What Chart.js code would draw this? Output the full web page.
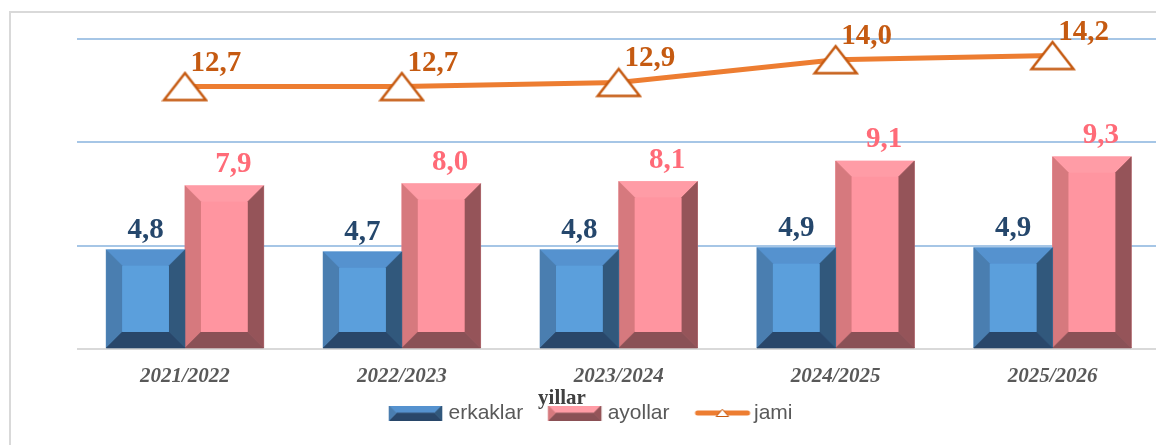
<!DOCTYPE html>
<html><head><meta charset="utf-8">
<script src="https://cdn.jsdelivr.net/npm/chart.js@4.4.1/dist/chart.umd.min.js"></script>
<style>
html,body{margin:0;padding:0;background:#fff;overflow:hidden;width:1156px;height:445px;}
#frame{position:absolute;left:9px;top:11px;width:1200px;height:500px;border-left:2px solid #d9d9d9;border-top:2px solid #d9d9d9;}
#wrap{position:absolute;left:0;top:0;width:1180px;height:445px;}
</style></head><body>
<div id="frame"></div>
<div id="wrap"><canvas id="c" width="1180" height="445"></canvas></div>
<script>
const categories = ['2021/2022','2022/2023','2023/2024','2024/2025','2025/2026'];
const erkaklar = [4.8, 4.7, 4.8, 4.9, 4.9];
const ayollar = [7.9, 8.0, 8.1, 9.1, 9.3];
const jami = [12.7, 12.7, 12.9, 14.0, 14.2];
const yTicks = [0, 5, 10, 15];
const seriesNames = ['erkaklar', 'ayollar', 'jami'];
const axisTitle = 'yillar';

const blueBevel = {face:'#5b9fdc', top:'#5592cf', left:'#4a7eb0', right:'#31587c', bottom:'#29476a'};
const pinkBevel = {face:'#ff95a0', top:'#ff9ca6', left:'#d6797e', right:'#955459', bottom:'#8a5156'};

function poly(ctx, pts, color){
  ctx.beginPath();
  ctx.moveTo(pts[0][0], pts[0][1]);
  for (let i=1;i<pts.length;i++) ctx.lineTo(pts[i][0], pts[i][1]);
  ctx.closePath();
  ctx.fillStyle = color; ctx.fill();
  ctx.strokeStyle = color; ctx.lineWidth = 0.6; ctx.stroke();
}
function drawBevel(ctx, l, t, r, b, bev, c){
  const w = r-l, h = b-t;
  const k = Math.min(bev, h/2, w/2);
  ctx.save();
  ctx.fillStyle = c.face; ctx.fillRect(l, t, w, h);
  poly(ctx, [[l,t],[r,t],[r-k,t+k],[l+k,t+k]], c.top);
  poly(ctx, [[l,t],[l+k,t+k],[l+k,b-k],[l,b]], c.left);
  poly(ctx, [[r,t],[r,b],[r-k,b-k],[r-k,t+k]], c.right);
  poly(ctx, [[l,b],[l+k,b-k],[r-k,b-k],[r,b]], c.bottom);
  ctx.fillStyle = c.face; ctx.fillRect(l+k, t+k, w-2*k, h-2*k);
  ctx.restore();
}
// legend images: 80px wide, visible mark right-aligned
function legendBox(c){
  const cv = document.createElement('canvas'); cv.width = 80; cv.height = 15;
  const x = cv.getContext('2d');
  x.translate(23, 0);
  const k = 7.5, w = 53, h = 15;
  poly(x, [[0,0],[w,0],[w-k,k],[k,k]], c.top);
  poly(x, [[0,h],[k,h-k],[w-k,h-k],[w,h]], c.bottom);
  poly(x, [[0,0],[k,k],[0,h]], c.left);
  poly(x, [[w,0],[w,h],[w-k,k]], c.right);
  return cv;
}
function legendLine(){
  const cv = document.createElement('canvas'); cv.width = 80; cv.height = 16;
  const x = cv.getContext('2d');
  x.translate(23, 0);
  x.strokeStyle = '#ed7d31'; x.lineWidth = 5; x.lineCap = 'round';
  x.beginPath(); x.moveTo(3, 8); x.lineTo(53, 8); x.stroke();
  x.beginPath(); x.moveTo(28, 4.5); x.lineTo(34, 11.5); x.lineTo(22, 11.5); x.closePath();
  x.fillStyle = '#fff'; x.fill(); x.strokeStyle = '#c55a11'; x.lineWidth = 1; x.stroke();
  return cv;
}
function triImg(w, h, lw){
  const cv = document.createElement('canvas'); cv.width = w+lw*2; cv.height = h+lw*2;
  const x = cv.getContext('2d');
  x.beginPath(); x.moveTo(lw + w/2, lw); x.lineTo(lw + w, lw + h); x.lineTo(lw, lw + h); x.closePath();
  x.fillStyle = '#fff'; x.fill();
  x.strokeStyle = '#c55a11'; x.lineWidth = lw; x.stroke();
  return cv;
}
const legendImgs = [legendBox(blueBevel), legendBox(pinkBevel), legendLine()];
const pointTri = triImg(42, 27, 2.5);

const fmt = v => v.toFixed(1).replace('.', ',');

const bevelPlugin = {
  id: 'bevel',
  afterDatasetDraw(chart, args){
    const ds = chart.data.datasets[args.index];
    if (!ds.bevel) return;
    const ctx = chart.ctx;
    args.meta.data.forEach(el => {
      const p = el.getProps(['x','y','base','width'], true);
      drawBevel(ctx, p.x - p.width/2, p.y, p.x + p.width/2, p.base, 16, ds.bevel);
    });
  }
};
const labelPlugin = {
  id: 'vlabels',
  afterDatasetsDraw(chart){
    const ctx = chart.ctx;
    ctx.save();
    ctx.font = 'bold 29px "Liberation Serif"';
    ctx.textAlign = 'center'; ctx.textBaseline = 'alphabetic';
    chart.data.datasets.forEach((ds, i) => {
      const meta = chart.getDatasetMeta(i);
      const s = ds.lbl;
      meta.data.forEach((el, j) => {
        const p = el.getProps(['x','y'], true);
        ctx.fillStyle = s.color;
        ctx.fillText(fmt(ds.data[j]), p.x + s.dx, p.y + s.dy);
      });
    });
    ctx.restore();
  },
  afterDraw(chart){
    const ctx = chart.ctx;
    ctx.save();
    ctx.font = 'bold 21px "Liberation Serif"';
    ctx.fillStyle = '#404040';
    ctx.textAlign = 'center'; ctx.textBaseline = 'alphabetic';
    ctx.fillText(axisTitle, 562, 404);
    ctx.restore();
  }
};

new Chart(document.getElementById('c'), {
  data: {
    labels: categories,
    datasets: [
      {type:'bar', label: seriesNames[0], data: erkaklar, backgroundColor: blueBevel.face, borderWidth:0,
       bevel: blueBevel, order: 1, barPercentage: 1, categoryPercentage: 0.726,
       lbl: {color:'#25476c', dx:0, dy:-12}},
      {type:'bar', label: seriesNames[1], data: ayollar, backgroundColor: pinkBevel.face, borderWidth:0,
       bevel: pinkBevel, order: 1, barPercentage: 1, categoryPercentage: 0.726,
       lbl: {color:'#ff6b78', dx:9, dy:-14}},
      {type:'line', label: seriesNames[2], data: jami, borderColor:'#ed7d31', borderWidth:5,
       pointStyle: pointTri, pointRadius: 14, pointHoverRadius: 14, tension: 0, order: 0,
       lbl: {color:'#c55a11', dx:31, dy:-16}}
    ]
  },
  options: {
    responsive: false,
    animation: false,
    devicePixelRatio: 1,
    layout: {padding: {left: 2, right: 15.5, top: 39, bottom: 11.5}},
    plugins: {
      tooltip: {enabled:false},
      legend: {
        position: 'bottom',
        labels: {
          usePointStyle: true,
          pointStyleWidth: 64,
          padding: 10,
          color: '#595959',
          font: {family:'"Liberation Sans"', size: 21},
          generateLabels: chart => chart.data.datasets.map((ds, i) => ({
            text: ds.label, pointStyle: legendImgs[i], datasetIndex: i, hidden: false,
            fontColor: '#595959', lineWidth: 0, strokeStyle: 'rgba(0,0,0,0)', fillStyle: 'rgba(0,0,0,0)'
          }))
        }
      }
    },
    scales: {
      x: {
        offset: true,
        grid: {display: false},
        border: {display: false},
        ticks: {color:'#595959', padding: 7, autoSkip: false, maxRotation: 0,
          font: {family:'"Liberation Serif"', size: 21, style:'italic', weight:'bold'}},
        afterFit: s => { s.height = 43.5; }
      },
      y: {
        min: 0, max: 15,
        border: {display: false},
        grid: {drawTicks: false, lineWidth: 2,
          color: c => (c.tick && c.tick.value === 0) ? '#d9d9d9' : '#a6c6e6'},
        ticks: {display: false},
        afterBuildTicks: s => { s.ticks = yTicks.map(v => ({value: v})); },
        afterFit: s => { s.width = 74.5; }
      }
    }
  },
  plugins: [bevelPlugin, labelPlugin]
});
</script>
</body></html>
